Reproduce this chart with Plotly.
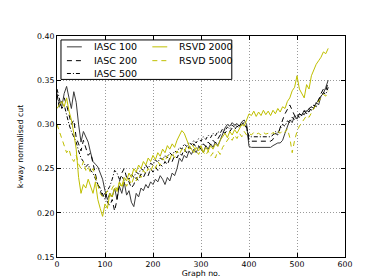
import plotly.graph_objects as go

graph_no = list(range(0, 570, 5))

iasc_100 = [0.330, 0.325, 0.320, 0.335, 0.343, 0.330, 0.318, 0.337, 0.325, 0.300,
            0.280, 0.292, 0.285, 0.280, 0.268, 0.258, 0.255, 0.252, 0.245, 0.238,
            0.225, 0.215, 0.222, 0.218, 0.228, 0.215, 0.230, 0.222, 0.235, 0.220,
            0.225, 0.212, 0.207, 0.222, 0.218, 0.228, 0.225, 0.232, 0.228, 0.235,
            0.232, 0.238, 0.235, 0.242, 0.238, 0.232, 0.240, 0.236, 0.245, 0.242,
            0.250, 0.262, 0.258, 0.265, 0.262, 0.270, 0.266, 0.272, 0.268, 0.275,
            0.272, 0.268, 0.276, 0.272, 0.278, 0.274, 0.280, 0.276, 0.282, 0.290,
            0.296, 0.300, 0.298, 0.302, 0.299, 0.301, 0.298, 0.303, 0.305, 0.300,
            0.275, 0.274, 0.274, 0.274, 0.274, 0.274, 0.274, 0.274, 0.274, 0.274,
            0.276, 0.278, 0.279, 0.279, 0.282, 0.290, 0.298, 0.305, 0.302, 0.310,
            0.306, 0.312, 0.310, 0.316, 0.314, 0.318, 0.320, 0.318, 0.325, 0.322,
            0.332, 0.335, 0.342, 0.350]

iasc_200 = [0.335, 0.318, 0.328, 0.330, 0.322, 0.312, 0.300, 0.305, 0.285, 0.278,
            0.270, 0.282, 0.272, 0.265, 0.268, 0.255, 0.242, 0.232, 0.225, 0.218,
            0.222, 0.212, 0.208, 0.215, 0.202, 0.215, 0.235, 0.245, 0.250, 0.240,
            0.235, 0.228, 0.232, 0.240, 0.236, 0.244, 0.240, 0.246, 0.242, 0.250,
            0.246, 0.252, 0.248, 0.255, 0.252, 0.258, 0.254, 0.262, 0.258, 0.265,
            0.262, 0.268, 0.265, 0.272, 0.268, 0.275, 0.272, 0.278, 0.274, 0.276,
            0.272, 0.278, 0.275, 0.280, 0.277, 0.282, 0.279, 0.284, 0.288, 0.292,
            0.290, 0.294, 0.292, 0.296, 0.294, 0.298, 0.296, 0.300, 0.302, 0.298,
            0.281, 0.281, 0.281, 0.281, 0.281, 0.281, 0.281, 0.281, 0.281, 0.281,
            0.283, 0.290, 0.288, 0.298, 0.305, 0.312, 0.318, 0.322, 0.316, 0.310,
            0.308, 0.312, 0.310, 0.315, 0.312, 0.318, 0.316, 0.322, 0.320, 0.328,
            0.335, 0.340, 0.338, 0.348]

iasc_500 = [0.340, 0.330, 0.318, 0.322, 0.310, 0.300, 0.292, 0.285, 0.280, 0.270,
            0.262, 0.258, 0.252, 0.255, 0.248, 0.245, 0.238, 0.232, 0.228, 0.222,
            0.215, 0.225, 0.230, 0.238, 0.248, 0.245, 0.238, 0.242, 0.236, 0.240,
            0.238, 0.244, 0.240, 0.246, 0.244, 0.250, 0.248, 0.254, 0.250, 0.256,
            0.254, 0.260, 0.257, 0.262, 0.260, 0.265, 0.262, 0.268, 0.265, 0.270,
            0.268, 0.274, 0.272, 0.278, 0.275, 0.280, 0.277, 0.282, 0.279, 0.284,
            0.281, 0.286, 0.283, 0.288, 0.285, 0.290, 0.287, 0.292, 0.290, 0.295,
            0.293, 0.297, 0.295, 0.299, 0.297, 0.300, 0.298, 0.302, 0.300, 0.296,
            0.286, 0.286, 0.286, 0.286, 0.286, 0.286, 0.286, 0.286, 0.286, 0.286,
            0.288, 0.292, 0.290, 0.296, 0.300, 0.298, 0.304, 0.302, 0.308, 0.305,
            0.310, 0.308, 0.313, 0.311, 0.316, 0.314, 0.320, 0.318, 0.324, 0.328,
            0.332, 0.336, 0.334, 0.342]

rsvd_2000 = [0.318, 0.322, 0.326, 0.320, 0.330, 0.315, 0.305, 0.290, 0.272, 0.240,
             0.222, 0.232, 0.228, 0.238, 0.230, 0.222, 0.235, 0.215, 0.205, 0.196,
             0.210, 0.205, 0.222, 0.218, 0.228, 0.224, 0.235, 0.230, 0.240, 0.236,
             0.245, 0.240, 0.250, 0.246, 0.254, 0.250, 0.258, 0.254, 0.262, 0.258,
             0.265, 0.260, 0.268, 0.264, 0.272, 0.268, 0.276, 0.272, 0.278, 0.274,
             0.282, 0.288, 0.293, 0.290, 0.282, 0.276, 0.272, 0.268, 0.274, 0.270,
             0.276, 0.268, 0.274, 0.270, 0.276, 0.272, 0.278, 0.275, 0.282, 0.286,
             0.290, 0.285, 0.292, 0.288, 0.294, 0.290, 0.296, 0.300, 0.298, 0.305,
             0.312, 0.310, 0.315, 0.309, 0.314, 0.310, 0.316, 0.311, 0.315, 0.310,
             0.316, 0.312, 0.318, 0.314, 0.320, 0.318, 0.326, 0.330, 0.338, 0.342,
             0.355, 0.340, 0.335, 0.330, 0.345, 0.340, 0.355, 0.362, 0.368, 0.372,
             0.376, 0.382, 0.380, 0.386]

rsvd_5000 = [0.300, 0.292, 0.285, 0.275, 0.268, 0.272, 0.262, 0.258, 0.265, 0.255,
             0.250, 0.258, 0.248, 0.252, 0.245, 0.250, 0.240, 0.232, 0.222, 0.218,
             0.220, 0.225, 0.218, 0.228, 0.232, 0.226, 0.234, 0.228, 0.236, 0.230,
             0.238, 0.232, 0.240, 0.236, 0.244, 0.240, 0.248, 0.244, 0.250, 0.246,
             0.254, 0.250, 0.258, 0.254, 0.262, 0.258, 0.265, 0.260, 0.268, 0.262,
             0.270, 0.266, 0.272, 0.268, 0.276, 0.272, 0.278, 0.274, 0.270, 0.266,
             0.272, 0.268, 0.265, 0.270, 0.264, 0.268, 0.262, 0.270, 0.266, 0.274,
             0.278, 0.282, 0.286, 0.282, 0.288, 0.284, 0.290, 0.286, 0.292, 0.288,
             0.290, 0.288, 0.291, 0.289, 0.290, 0.288, 0.291, 0.289, 0.290, 0.288,
             0.291, 0.289, 0.292, 0.290, 0.293, 0.291, 0.295, 0.285, 0.268, 0.282,
             0.292, 0.298, 0.302, 0.305, 0.310, 0.308, 0.314, 0.318, 0.322, 0.326,
             0.330, 0.334, 0.332, 0.338]

series_names = ["IASC 100", "IASC 200", "IASC 500", "RSVD 2000", "RSVD 5000"]
x_ticks = [0, 100, 200, 300, 400, 500, 600]
y_ticks = [0.15, 0.20, 0.25, 0.30, 0.35, 0.40]

YEL = "#bfbf00"
FONT = "DejaVu Sans"
DASH = "5px,4px"
DASHDOT = "4px,2px,1px,2px"

styles = [
    ("#3a3a3a", "solid"),
    ("black", DASH),
    ("black", DASHDOT),
    (YEL, "solid"),
    (YEL, DASH),
]
values = [iasc_100, iasc_200, iasc_500, rsvd_2000, rsvd_5000]

fig = go.Figure()
for name, vals, (col, dash) in zip(series_names, values, styles):
    fig.add_trace(go.Scatter(
        x=graph_no, y=vals, mode="lines", name=name,
        line=dict(color=col, width=1, dash=dash),
        showlegend=False,
    ))

# Hand-drawn legend box (two columns) in plot-area (paper) coordinates
PW, PH = 290.0, 224.0  # plot area size in px


def px_x(p):
    return p / PW


def px_y(p):
    return 1 - p / PH


shapes = [dict(type="rect", xref="paper", yref="paper",
               x0=px_x(4), x1=px_x(176), y0=px_y(44), y1=px_y(4),
               line=dict(color="black", width=1), fillcolor="white", layer="above")]
annotations = []
slots = [(10, 35, 11), (10, 35, 25), (10, 35, 38), (96, 121, 11), (96, 121, 25)]
for name, (col, dash), (lx, tx, ry) in zip(series_names, styles, slots):
    shapes.append(dict(type="line", xref="paper", yref="paper",
                       x0=px_x(lx), x1=px_x(lx + 15), y0=px_y(ry), y1=px_y(ry),
                       line=dict(color=col, width=1, dash=dash), layer="above"))
    annotations.append(dict(xref="paper", yref="paper", x=px_x(tx), y=px_y(ry),
                            text=name, showarrow=False, xanchor="left", yanchor="middle",
                            font=dict(family=FONT, size=9.5, color="black")))

axis_common = dict(
    showline=True, linecolor="black", linewidth=1, mirror="ticks",
    ticks="inside", ticklen=4, tickcolor="black",
    showgrid=True, gridcolor="#9a9a9a", gridwidth=1, griddash="1px,2px",
    zeroline=False, tickfont=dict(family=FONT, size=7.8, color="black"),
)

fig.update_layout(
    width=374, height=280,
    margin=dict(l=47, r=37, t=28, b=28),
    paper_bgcolor="white", plot_bgcolor="white",
    font=dict(family=FONT, size=8, color="black"),
    xaxis=dict(range=[0, 600], tickvals=x_ticks,
               title=dict(text="Graph no.", font=dict(family=FONT, size=7.8), standoff=1),
               **axis_common),
    yaxis=dict(range=[0.15, 0.40], tickvals=y_ticks, tickformat=".2f",
               title=dict(text="k-way normalised cut", font=dict(family=FONT, size=7.8), standoff=12),
               **axis_common),
    shapes=shapes,
    annotations=annotations,
    showlegend=False,
)

fig.write_html("out.html")
